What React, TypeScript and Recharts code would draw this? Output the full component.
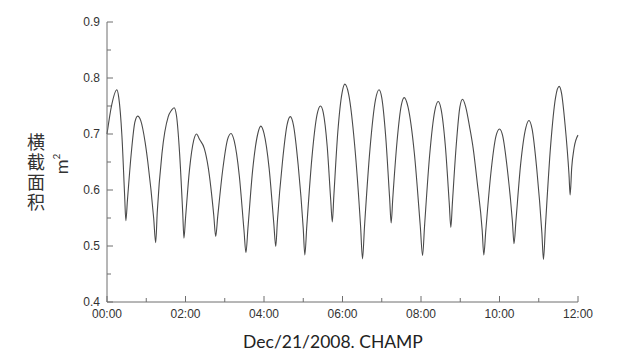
import { LineChart, Line, XAxis, YAxis } from "recharts";

// hours since 00:00, Dec 21 2008
const hours = [
  0, 0.12, 0.25, 0.3, 0.38, 0.45,
  0.48, 0.52, 0.62, 0.71, 0.78, 0.86, 0.97, 1.04, 1.19,
  1.24, 1.28, 1.4, 1.56, 1.64, 1.71, 1.77, 1.85, 1.93,
  1.96, 2.0, 2.1, 2.21, 2.28, 2.36, 2.48, 2.58, 2.72,
  2.77, 2.82, 2.95, 3.07, 3.16, 3.24, 3.37, 3.49,
  3.54, 3.59, 3.71, 3.84, 3.92, 4.0, 4.13, 4.25,
  4.3, 4.34, 4.47, 4.59, 4.67, 4.75, 4.87, 5.0,
  5.04, 5.09, 5.22, 5.35, 5.44, 5.51, 5.61, 5.7,
  5.74, 5.78, 5.88, 5.99, 6.06, 6.16, 6.31, 6.46,
  6.51, 6.56, 6.7, 6.84, 6.93, 7.0, 7.1, 7.2,
  7.24, 7.28, 7.39, 7.5, 7.57, 7.67, 7.83, 7.98,
  8.04, 8.09, 8.22, 8.35, 8.44, 8.51, 8.62, 8.72,
  8.76, 8.8, 8.9, 8.99, 9.06, 9.14, 9.24, 9.33, 9.43, 9.56,
  9.6, 9.65, 9.78, 9.91, 10.0, 10.08, 10.2, 10.33,
  10.37, 10.42, 10.54, 10.67, 10.75, 10.83, 10.95, 11.08,
  11.12, 11.17, 11.3, 11.43, 11.52, 11.58, 11.67, 11.77,
  11.8, 11.84, 11.9, 12.0,
];

// cross-section area, m^2
const area = [
  0.7, 0.752, 0.779, 0.765, 0.697, 0.589,
  0.545, 0.581, 0.667, 0.721, 0.732, 0.724, 0.686, 0.65, 0.549,
  0.506, 0.56, 0.665, 0.731, 0.742, 0.747, 0.733, 0.665, 0.558,
  0.514, 0.549, 0.635, 0.689, 0.7, 0.69, 0.674, 0.64, 0.555,
  0.517, 0.552, 0.637, 0.69, 0.701, 0.688, 0.626, 0.528,
  0.488, 0.531, 0.635, 0.7, 0.714, 0.701, 0.639, 0.54,
  0.499, 0.543, 0.65, 0.717, 0.731, 0.716, 0.645, 0.531,
  0.484, 0.535, 0.657, 0.734, 0.75, 0.738, 0.678, 0.582,
  0.543, 0.59, 0.703, 0.774, 0.789, 0.77, 0.68, 0.536,
  0.477, 0.534, 0.673, 0.761, 0.779, 0.765, 0.696, 0.586,
  0.541, 0.584, 0.687, 0.752, 0.765, 0.748, 0.666, 0.537,
  0.483, 0.535, 0.662, 0.741, 0.758, 0.745, 0.679, 0.576,
  0.533, 0.577, 0.682, 0.748, 0.762, 0.748, 0.712, 0.674, 0.615, 0.527,
  0.484, 0.527, 0.63, 0.696, 0.709, 0.697, 0.637, 0.543,
  0.504, 0.546, 0.647, 0.711, 0.724, 0.709, 0.637, 0.523,
  0.476, 0.535, 0.677, 0.766, 0.785, 0.773, 0.717, 0.628,
  0.591, 0.64, 0.675, 0.698,
];

const xTicks = [0, 1, 2, 3, 4, 5, 6, 7, 8, 9, 10, 11, 12];
const yTicks = [0.4, 0.45, 0.5, 0.55, 0.6, 0.65, 0.7, 0.75, 0.8, 0.85, 0.9];
const yTitle = "横截面积";
const xTitle = "Dec/21/2008. CHAMP";

const data = hours.map((h, i) => ({ h, v: area[i] }));

const AXIS = "#6f6f6f";
const TEXT = "#333";
const FONT = "'Liberation Sans', Arial, sans-serif";

const hhmm = (v: number) => `${String(v).padStart(2, "0")}:00`;
const isMajorY = (v: number) => Math.round(v * 100) % 10 === 0;

const BottomTick = (props: any) => {
  const { x, y, payload } = props;
  const v = payload.value;
  const base = y - 12;
  return (
    <g>
      <line x1={x} y1={base} x2={x} y2={base - (v % 2 === 0 ? 6 : 4)} stroke={AXIS} />
      {v % 2 === 0 && (
        <text x={x} y={y} dy="0.36em" textAnchor="middle" fontSize={12} fontFamily={FONT} fill={TEXT}>
          {hhmm(v)}
        </text>
      )}
    </g>
  );
};

const TopTick = (props: any) => {
  const { x, y, payload } = props;
  return <line x1={x} y1={y} x2={x} y2={y + (payload.value % 2 === 0 ? 6 : 4)} stroke={AXIS} />;
};

const LeftTick = (props: any) => {
  const { x, y, payload } = props;
  const v = payload.value;
  const base = x + 7;
  return (
    <g>
      <line x1={base} y1={y} x2={base + (isMajorY(v) ? 6 : 4)} y2={y} stroke={AXIS} />
      {isMajorY(v) && (
        <text x={x} y={y} dy="0.36em" textAnchor="end" fontSize={12} fontFamily={FONT} fill={TEXT}>
          {v.toFixed(1)}
        </text>
      )}
    </g>
  );
};

const RightTick = (props: any) => {
  const { x, y, payload } = props;
  return <line x1={x} y1={y} x2={x - (isMajorY(payload.value) ? 6 : 4)} y2={y} stroke={AXIS} />;
};

const YTitle = () => (
  <g fill={TEXT}>
    <text
      x={28}
      y={125}
      fontSize={18}
      letterSpacing={2}
      fontFamily="'Noto Sans CJK SC', sans-serif"
      style={{ writingMode: "vertical-rl" }}
    >
      {yTitle}
    </text>
    <text transform="translate(60,156) rotate(-90)" textAnchor="middle" fontSize={18} fontFamily="Lato, sans-serif">
      m<tspan dy={-8} fontSize={10}>2</tspan>
    </text>
  </g>
);

const XTitle = () => (
  <text x={325} y={340} textAnchor="middle" fontSize={17.5} fontFamily="Lato, sans-serif" fill="#222">
    {xTitle}
  </text>
);

const App = () => {
  return (
    <LineChart
      width={614}
      height={343}
      data={data}
      margin={{ top: 14, right: 44, left: 59, bottom: 19 }}
      style={{ background: "#fff", overflow: "visible" }}
    >
      <XAxis
        dataKey="h"
        type="number"
        domain={[0, 12]}
        ticks={xTicks}
        interval={0}
        height={30}
        tickSize={0}
        tickMargin={12}
        tickLine={false}
        tick={<BottomTick />}
        axisLine={{ stroke: AXIS }}
        label={{ content: () => <XTitle /> }}
      />
      <XAxis
        xAxisId="top"
        orientation="top"
        dataKey="h"
        type="number"
        domain={[0, 12]}
        allowDataOverflow
        ticks={xTicks}
        interval={0}
        height={0}
        tickSize={0}
        tickMargin={0}
        tickLine={false}
        tick={<TopTick />}
        axisLine={{ stroke: AXIS }}
      />
      <YAxis
        type="number"
        domain={[0.4, 0.9]}
        allowDataOverflow
        ticks={yTicks}
        interval={0}
        width={40}
        tickSize={0}
        tickMargin={7}
        tickLine={false}
        tick={<LeftTick />}
        axisLine={{ stroke: AXIS }}
        label={{ content: () => <YTitle /> }}
      />
      <YAxis
        yAxisId="right"
        orientation="right"
        type="number"
        domain={[0.4, 0.9]}
        allowDataOverflow
        ticks={yTicks}
        interval={0}
        width={0}
        tickSize={0}
        tickMargin={0}
        tickLine={false}
        tick={<RightTick />}
        axisLine={{ stroke: AXIS }}
      />
      <Line
        type="monotone"
        dataKey="v"
        stroke="#4a4a4a"
        strokeWidth={1.1}
        dot={false}
        isAnimationActive={false}
      />
      <Line
        xAxisId="top"
        yAxisId="right"
        type="monotone"
        dataKey="v"
        stroke="none"
        dot={false}
        activeDot={false}
        isAnimationActive={false}
      />
    </LineChart>
  );
};

export default App;
